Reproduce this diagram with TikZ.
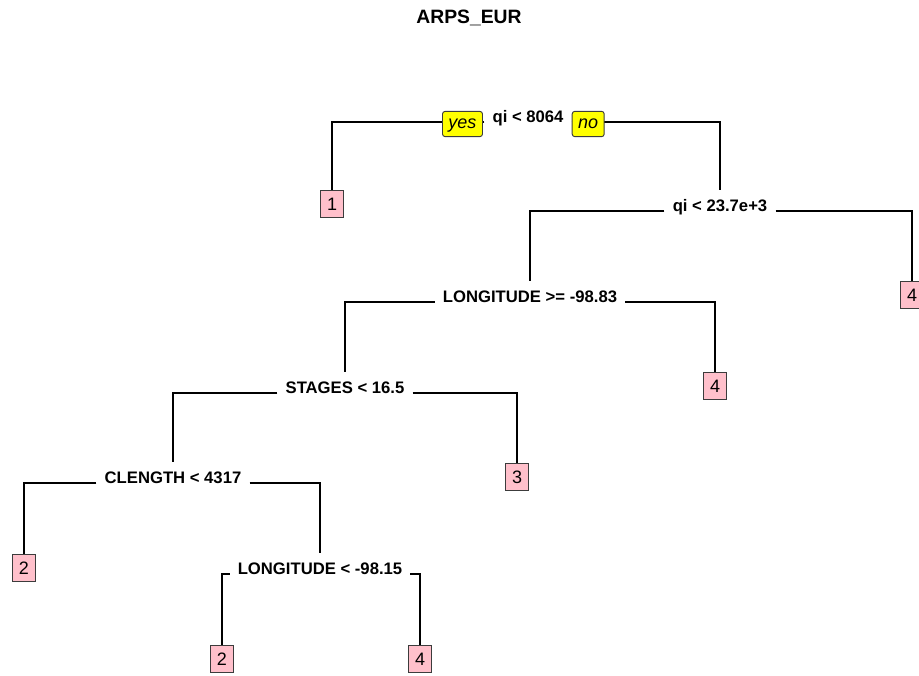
\documentclass[tikz,border=0pt]{standalone}
\usepackage{fontspec}
\setmainfont{Liberation Sans}
\definecolor{leafpink}{HTML}{FFC0CB}
\definecolor{boxline}{HTML}{3C3C3C}
\definecolor{answerfill}{HTML}{FFFF00}
\newcommand{\splitfont}{\fontsize{12.5}{15}\selectfont\bfseries}
\newcommand{\leaffont}{\fontsize{13.5}{16}\selectfont}

\begin{document}
\begin{tikzpicture}[x=0.75pt,y=-0.75pt,
  split/.style={inner xsep=6pt,inner ysep=6.5pt,text height=9pt,text depth=9pt,font=\splitfont},
  leaf/.style={draw=boxline,line width=0.7pt,fill=leafpink,font=\leaffont,minimum width=17.5pt,minimum height=20.5pt,inner sep=1pt},
  answer/.style={draw=boxline,line width=0.7pt,fill=answerfill,rounded corners=2pt,font=\leaffont\itshape,text height=8pt,text depth=2pt,minimum height=19pt,inner xsep=4.5pt,inner ysep=1pt},
  branch/.style={line width=1.1pt,black}]
\useasboundingbox (0,0) rectangle (919,675);
\node[font=\fontsize{14.5}{17}\selectfont\bfseries] (title) at (469,18) {ARPS\_EUR};
% splits
\node[split] (root) at (528,122) {qi < 8064};
\node[split] (n2) at (720,211) {qi < 23.7e+3};
\node[split] (n3) at (530,302) {LONGITUDE >= -98.83};
\node[split] (n4) at (345,393) {STAGES < 16.5};
\node[split] (n5) at (173,483) {CLENGTH < 4317};
\node[split] (n6) at (320,574) {LONGITUDE < -98.15};
% leaves
\node[leaf] (l1) at (332,204) {1};
\node[leaf] (l4a) at (912,295) {4};
\node[leaf] (l4b) at (715,386) {4};
\node[leaf] (l3) at (517,477) {3};
\node[leaf] (l2a) at (24,568) {2};
\node[leaf] (l2b) at (222,659) {2};
\node[leaf] (l4c) at (420,659) {4};
\foreach \p/\l/\r in {root/l1/n2,n2/n3/l4a,n3/n4/l4b,n4/n5/l3,n5/l2a/n6,n6/l2b/l4c}
  \draw[branch] (\p.west) -| (\l.north) (\p.east) -| (\r.north);
\node[answer,anchor=east] (yes) at ([xshift=-1,yshift=-1.5]root.west) {yes};
\node[answer,anchor=west] (no) at ([yshift=-1.5]root.east) {no};
\end{tikzpicture}
\end{document}
